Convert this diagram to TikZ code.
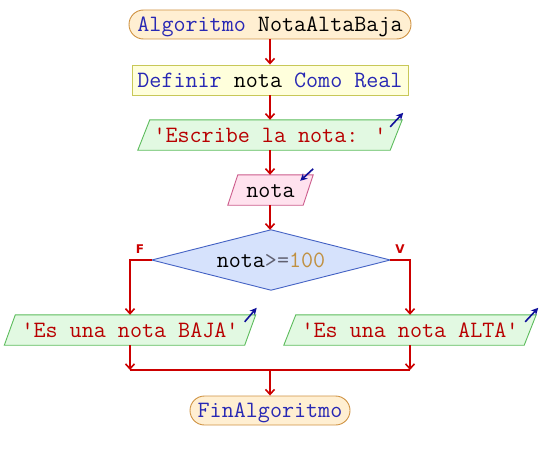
\documentclass[tikz,border=0pt]{standalone}
\usepackage{fontspec}
\newfontfamily\labfont{DejaVu Sans}
\usetikzlibrary{arrows.meta,calc}
\definecolor{flowred}{HTML}{CC0000}
\definecolor{kwblue}{HTML}{2828B4}
\definecolor{strred}{HTML}{B80000}
\definecolor{opgray}{HTML}{606070}
\definecolor{numgold}{HTML}{C09040}
\definecolor{navyarr}{HTML}{10109A}
\definecolor{termfill}{HTML}{FFEFD2}
\definecolor{termdraw}{HTML}{D09444}
\definecolor{deffill}{HTML}{FFFFDC}
\definecolor{defdraw}{HTML}{C8C858}
\definecolor{outfill}{HTML}{E2F9E2}
\definecolor{outdraw}{HTML}{5CBC5C}
\definecolor{infill}{HTML}{FFE2EE}
\definecolor{indraw}{HTML}{CC5C8C}
\definecolor{decfill}{HTML}{D6E2FC}
\definecolor{decdraw}{HTML}{4462C4}
\newcommand\sq{\textquotesingle}
\tikzset{
  x=1pt,y=-1pt,
  txt/.style={font=\ttfamily\fontsize{23.4}{26}\selectfont, inner sep=0pt, anchor=center, text height=16pt, text depth=2pt},
  termbox/.style={txt, draw=termdraw, fill=termfill, line width=0.9pt, rounded corners=14.5pt},
  defbox/.style={txt, draw=defdraw, fill=deffill, line width=0.9pt},
  holder/.style={inner sep=0pt},
  flow/.style={draw=flowred, line width=1.8pt},
  flowarr/.style={flow, -{Straight Barb[length=5pt,width=9pt,line width=1.6pt]}},
  ioarr/.style={draw=navyarr, line width=1.6pt, -{Stealth[length=7pt,width=7pt]}},
  branch/.style={text=flowred, font=\labfont\bfseries\fontsize{12}{13}\selectfont, inner sep=0pt}
}
\begin{document}
\begin{tikzpicture}
\useasboundingbox (0,0) rectangle (540,460);
\fill[white] (0,0) rectangle (540,460);

% start
\node[termbox, minimum width=282pt, minimum height=29pt] (start) at (270,24.5)
  {\textcolor{kwblue}{Algoritmo} NotaAltaBaja};
% define
\node[defbox, minimum width=276pt, minimum height=30pt] (def) at (270,80)
  {\textcolor{kwblue}{Definir} nota \textcolor{kwblue}{Como Real}};
% output escribe
\node[holder, minimum width=264pt, minimum height=30pt] (esc) at (270,135) {};
\draw[fill=outfill, draw=outdraw, line width=0.9pt]
  ($(esc.north west)+(12,0)$) -- (esc.north east) -- ($(esc.south east)+(-12,0)$) -- (esc.south west) -- cycle;
\node[txt, text=strred] at (esc.center) {\sq Escribe la nota: \sq};
\draw[ioarr] ($(esc.north east)+(-12,7)$) -- ($(esc.north east)+(1,-7)$);
% input nota
\node[holder, minimum width=85pt, minimum height=30pt] (lee) at (270.5,190) {};
\draw[fill=infill, draw=indraw, line width=0.9pt]
  ($(lee.north west)+(10,0)$) -- (lee.north east) -- ($(lee.south east)+(-10,0)$) -- (lee.south west) -- cycle;
\node[txt] at (lee.center) {nota};
\draw[ioarr] ($(lee.north east)+(0,-6)$) -- ($(lee.north east)+(-13,6)$);
% decision
\node[holder, minimum width=238pt, minimum height=60pt] (dec) at (271,260) {};
\draw[fill=decfill, draw=decdraw, line width=0.9pt]
  (dec.north) -- (dec.east) -- (dec.south) -- (dec.west) -- cycle;
\node[txt] at (dec.center) {nota\textcolor{opgray}{>=}\textcolor{numgold}{100}};
% BAJA
\node[holder, minimum width=251pt, minimum height=30pt] (baja) at (130,330) {};
\draw[fill=outfill, draw=outdraw, line width=0.9pt]
  ($(baja.north west)+(11,0)$) -- (baja.north east) -- ($(baja.south east)+(-11,0)$) -- (baja.south west) -- cycle;
\node[txt, text=strred] at (baja.center) {\sq Es una nota BAJA\sq};
\draw[ioarr] ($(baja.north east)+(-11,7)$) -- ($(baja.north east)+(1,-7)$);
% ALTA
\node[holder, minimum width=252pt, minimum height=30pt] (alta) at (410,330) {};
\draw[fill=outfill, draw=outdraw, line width=0.9pt]
  ($(alta.north west)+(12,0)$) -- (alta.north east) -- ($(alta.south east)+(-12,0)$) -- (alta.south west) -- cycle;
\node[txt, text=strred] at (alta.center) {\sq Es una nota ALTA\sq};
\draw[ioarr] ($(alta.north east)+(-11,7)$) -- ($(alta.north east)+(2,-7)$);
% end
\node[termbox, minimum width=160pt, minimum height=29pt] (fin) at (270,410.5)
  {\textcolor{kwblue}{FinAlgoritmo}};

% connectors
\draw[flowarr] (start.south) -- (def.north);
\draw[flowarr] (def.south) -- (esc.north);
\draw[flowarr] (esc.south) -- (lee.north -| esc.south);
\draw[flowarr] (lee.south -| esc.south) -- (dec.north -| esc.south);
\draw[flowarr] (dec.west) -| (baja.north);
\draw[flowarr] (dec.east) -| (alta.north);
\coordinate (jl) at (130,370);
\coordinate (jr) at (410,370);
\coordinate (jm) at (270,370);
\draw[flowarr] (baja.south) -- (jl);
\draw[flowarr] (alta.south) -- (jr);
\draw[flow] (jl) -- (jr);
\draw[flowarr] (jm) -- (fin.north);

\node[branch] (flab) at (140,249) {F};
\node[branch] (vlab) at (400,249) {V};
\end{tikzpicture}
\end{document}
